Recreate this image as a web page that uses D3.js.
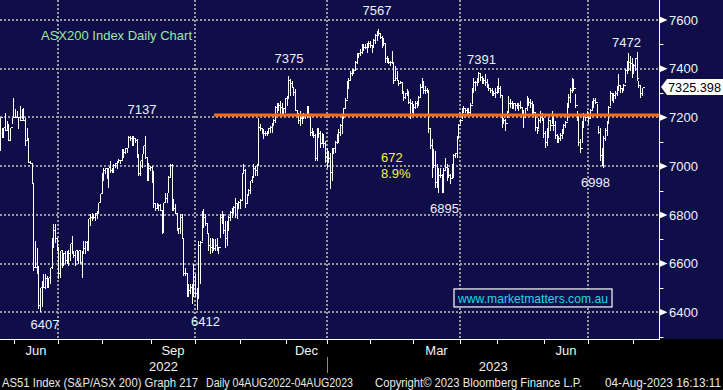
<!DOCTYPE html>
<html><head><meta charset="utf-8">
<script src="https://cdn.jsdelivr.net/npm/d3@7"></script>
<style>
html,body{margin:0;padding:0;background:#000;}
svg{display:block;font-family:"Liberation Sans",Arial,sans-serif;}
</style></head><body>
<svg id="c" width="723" height="390"></svg>
<script>
// ASX200 daily bars (trading-day index)
const lows = [
7066,7121,7121,7149,7149,7108,7108,7176,7203,7203,
7203,7155,7190,7196,7190,7087,7108,7019,7012,6930,
6574,6588,6560,6417,6407,6424,6506,6499,6506,6506,
6519,6581,6670,6690,6656,6540,6547,6588,6595,6601,
6601,6595,6615,6642,6629,6595,6615,6601,6601,6547,
6642,6642,6656,6656,6759,6779,6786,6779,6786,6807,
6854,6889,6943,6971,6950,6916,6978,6978,6978,6998,
6991,7019,7012,7025,7039,7053,7060,7080,7108,7087,
7087,7101,7039,6964,6964,6998,7053,7032,6943,6943,
6984,6937,6834,6820,6827,6820,6820,6724,6731,6854,
6854,6895,6957,6820,6820,6807,6738,6724,6724,6704,
6553,6553,6465,6465,6478,6437,6465,6465,6412,6458,
6519,6697,6752,6759,6724,6656,6642,6649,6656,6656,
6656,6642,6711,6766,6724,6670,6677,6738,6779,6793,
6807,6793,6786,6827,6827,6861,6971,6834,6854,6882,
6889,6937,6957,6964,6964,7005,7149,7135,7114,7128,
7128,7135,7142,7142,7169,7183,7224,7231,7217,7217,
7217,7224,7251,7279,7292,7326,7292,7231,7217,7176,
7169,7176,7196,7196,7203,7210,7128,7128,7121,7025,
7025,7121,7080,7101,7080,7019,6998,7019,6909,6943,
7053,7060,7094,7101,7128,7135,7203,7237,7279,7320,
7354,7374,7381,7395,7422,7450,7456,7463,7477,7484,
7470,7491,7491,7470,7491,7504,7518,7538,7525,7491,
7497,7429,7429,7422,7415,7422,7340,7354,7354,7333,
7340,7299,7272,7279,7292,7258,7196,7224,7217,7237,
7244,7251,7285,7326,7299,7299,7306,7142,7073,6957,
6998,6916,6916,6895,6957,6895,6895,6984,6943,6957,
6930,6957,6957,7039,7039,7121,7176,7196,7224,7224,
7217,7217,7210,7258,7306,7313,7333,7347,7354,7340,
7340,7333,7326,7313,7306,7292,7292,7285,7299,7306,
7285,7162,7176,7149,7203,7224,7244,7237,7237,7231,
7237,7231,7237,7217,7162,7203,7231,7251,7244,7217,
7217,7149,7135,7155,7183,7190,7121,7080,7087,7121,
7149,7176,7149,7114,7101,7101,7108,7114,7135,7162,
7190,7244,7265,7306,7313,7244,7190,7087,7060,7101,
7162,7190,7203,7176,7203,7231,7244,7258,7203,7135,
7025,7005,6998,7108,7128,7176,7251,7272,7265,7279,
7292,7313,7306,7306,7313,7347,7381,7395,7395,7367,
7381,7395,7354,7326,7285,7292];
const highs = [
7203,7162,7162,7224,7190,7176,7162,7203,7285,7237,
7231,7203,7251,7237,7244,7203,7162,7121,7025,7019,
6930,6697,6670,6595,6506,6533,6560,6560,6553,6547,
6588,6711,6766,6766,6704,6670,6656,6656,6649,6656,
6656,6656,6683,6718,6656,6656,6656,6656,6656,6656,
6697,6697,6697,6786,6807,6813,6807,6813,6820,6854,
6889,6978,6998,6998,6998,6998,7025,6998,7012,7019,
7025,7032,7025,7073,7073,7080,7080,7128,7128,7128,
7128,7121,7114,7053,7025,7053,7087,7128,7039,7019,
7005,7005,6984,6854,6854,6848,6848,6820,6854,6895,
6895,6964,7012,7012,6868,6848,6807,6752,6807,6807,
6704,6588,6560,6519,6519,6519,6601,6560,6506,6697,
6697,6820,6827,6807,6766,6724,6711,6711,6704,6704,
6711,6670,6807,6820,6807,6779,6779,6800,6820,6834,
6841,6875,6854,6861,6868,6978,7012,6991,6889,6909,
6943,6964,7012,7005,7012,7203,7176,7162,7155,7149,
7149,7162,7169,7183,7196,7251,7265,7265,7272,7265,
7244,7285,7292,7374,7361,7354,7326,7320,7231,7217,
7231,7210,7224,7217,7251,7251,7210,7162,7149,7135,
7162,7162,7149,7142,7135,7108,7080,7066,7060,7080,
7080,7108,7135,7155,7176,7210,7244,7285,7354,7367,
7395,7402,7402,7436,7470,7470,7484,7504,7504,7504,
7511,7518,7518,7497,7525,7545,7559,7567,7552,7538,
7532,7504,7456,7450,7436,7477,7429,7415,7395,7354,
7354,7347,7313,7306,7320,7313,7279,7272,7258,7272,
7272,7292,7340,7367,7354,7333,7326,7313,7155,7114,
7073,7066,7012,6998,6998,6971,6998,7039,7012,6998,
6971,7012,7053,7060,7128,7176,7196,7244,7251,7244,
7244,7244,7265,7326,7367,7354,7367,7391,7381,7374,
7367,7381,7361,7340,7326,7326,7313,7326,7333,7367,
7333,7292,7203,7196,7231,7292,7279,7272,7265,7265,
7265,7265,7272,7244,7231,7244,7292,7285,7279,7272,
7258,7224,7162,7203,7231,7224,7203,7149,7162,7203,
7190,7231,7217,7190,7135,7128,7142,7155,7176,7190,
7265,7299,7326,7367,7361,7299,7231,7217,7114,7190,
7224,7217,7231,7210,7237,7272,7285,7285,7258,7169,
7162,7080,7128,7162,7190,7251,7313,7306,7306,7313,
7333,7381,7333,7326,7340,7402,7436,7470,7456,7450,
7422,7450,7472,7354,7333,7325.398];
const closes = [
7203,7121,7162,7149,7149,7108,7162,7203,7203,7203,
7203,7203,7190,7196,7190,7108,7108,7019,7012,6930,
6588,6588,6560,6430,6506,6533,6506,6540,6519,6547,
6588,6711,6738,6704,6670,6560,6656,6622,6642,6615,
6656,6642,6683,6649,6636,6656,6622,6656,6608,6656,
6663,6690,6697,6786,6793,6800,6793,6807,6820,6854,
6889,6964,6984,6991,6957,6998,6984,6991,7005,7012,
7019,7025,7025,7066,7060,7073,7080,7121,7114,7121,
7114,7108,7046,6971,7025,7053,7087,7039,6950,6991,
6998,6957,6848,6827,6834,6841,6820,6738,6854,6868,
6895,6957,7005,6841,6827,6807,6745,6745,6793,6704,
6560,6560,6478,6492,6506,6512,6547,6478,6499,6677,
6690,6813,6793,6766,6724,6677,6670,6683,6663,6677,
6670,6670,6793,6786,6738,6704,6772,6793,6813,6820,
6834,6848,6848,6854,6861,6971,6984,6848,6882,6902,
6943,6957,6991,6984,7005,7162,7155,7142,7135,7135,
7142,7155,7162,7176,7190,7244,7244,7251,7244,7224,
7237,7279,7285,7354,7340,7326,7306,7231,7217,7190,
7196,7203,7210,7210,7244,7210,7142,7142,7128,7032,
7155,7135,7094,7121,7094,7039,7025,7032,6978,7073,
7073,7101,7128,7142,7169,7196,7237,7272,7340,7354,
7381,7388,7395,7429,7456,7463,7470,7491,7491,7491,
7497,7504,7497,7491,7518,7538,7552,7545,7532,7511,
7504,7443,7436,7429,7429,7429,7354,7361,7354,7340,
7347,7306,7285,7299,7299,7265,7258,7244,7244,7258,
7265,7285,7326,7340,7313,7313,7313,7155,7087,7060,
7005,6937,6957,6964,6964,6909,6984,6998,6957,6964,
6950,6991,7046,7053,7114,7169,7190,7237,7237,7231,
7231,7224,7251,7320,7347,7347,7361,7381,7367,7354,
7354,7347,7333,7320,7313,7306,7299,7306,7326,7320,
7292,7190,7190,7176,7224,7258,7258,7251,7258,7251,
7244,7251,7244,7231,7210,7237,7265,7265,7258,7244,
7224,7162,7149,7190,7210,7196,7135,7101,7142,7190,
7169,7203,7169,7128,7114,7114,7128,7142,7169,7183,
7251,7285,7313,7354,7320,7251,7203,7101,7073,7176,
7210,7203,7217,7196,7231,7258,7272,7265,7210,7142,
7046,7019,7114,7149,7183,7244,7299,7285,7292,7299,
7320,7333,7320,7313,7333,7395,7402,7429,7422,7408,
7415,7443,7361,7333,7299,7325.398];

// month starts, in trading-day index units
const monthNames = ["Jun","Jul","Aug","Sep","Oct","Nov","Dec","Jan","Feb","Mar","Apr","May","Jun","Jul","Aug"];
const monthStarts = [8.4,34.8,61.2,90.6,117,144,171.6,196.2,222,247.8,276,298.2,326.4,352.8,379.8];
const labelledMonths = [0,3,6,9,12];     // Jun, Sep, Dec, Mar, Jun
const gridMonths = [1,4,7,10,13];        // Jul, Oct, Jan, Apr, Jul
const years = ["2022","2023"];
const yMajor = [6400,6600,6800,7000,7200,7400,7600];
const yMinor = [6300,6500,6700,6900,7100,7300,7500];
const levelValue = 7210, levelStart = 128.4;

const annoText = ["7137","7567","7375","7391","7472","6895","6998","6407","6412"];
const annoIdx  = [85.2,226.2,173.4,288.9,375.9,266.7,357.3,27,123.3];
const annoVal  = [7214,7620,7423,7419,7489,6808,6914,6332,6344];
const moveText = ["672","8.9%"];
const moveIdx = 228.6, moveVal = [7017,6951];
const title = "ASX200 Index Daily Chart", titleIdx = 24.6, titleVal = 7518;
const site = "www.marketmatters.com.au", siteIdx = 319.8, siteVal = 6459;

const NAVY = "#0f0e48";
const W = 723, H = 390, plotB = 339, axisX = 659.5;
const svg = d3.select("#c");
svg.append("rect").attr("width",W).attr("height",H).attr("fill","#000");
svg.append("rect").attr("width",W).attr("height",plotB).attr("fill",NAVY);

const x = d3.scaleLinear().domain([0,395.7]).range([0,axisX]);
const y = d3.scaleLinear().domain([6290.5,7682.1]).range([plotB,0]);

// grid
const grid = svg.append("g").attr("stroke","#9a9aa6").attr("stroke-width",2).attr("stroke-dasharray","2,2");
yMajor.forEach(v=>{ grid.append("line").attr("x1",0).attr("x2",axisX).attr("y1",Math.round(y(v))).attr("y2",Math.round(y(v))); });
gridMonths.forEach(k=>{ const gx=Math.round(x(monthStarts[k])); grid.append("line").attr("x1",gx).attr("x2",gx).attr("y1",0).attr("y2",plotB); });

// bars
const bx = i => Math.round(x(i)) + 0.5;
let d = "";
for (let i=0;i<lows.length;i++){
  const xi = bx(i);
  d += `M${xi},${Math.round(y(lows[i]))+0.5}V${Math.round(y(highs[i]))+0.5}`;
  const xn = i < lows.length-1 ? bx(i+1) : xi+2;
  d += `M${xi},${Math.round(y(closes[i]))+0.5}H${xn}`;
}
svg.append("path").attr("d",d).attr("fill","none").attr("stroke","#fff").attr("stroke-width",1).attr("shape-rendering","crispEdges");

// orange level
svg.append("line").attr("x1",x(levelStart)).attr("x2",axisX).attr("y1",y(levelValue)).attr("y2",y(levelValue))
  .attr("stroke","#ff6a10").attr("stroke-width",3);

// axes
svg.append("line").attr("x1",axisX).attr("x2",axisX).attr("y1",0).attr("y2",plotB).attr("stroke","#fff").attr("stroke-width",1);
svg.append("line").attr("x1",0).attr("x2",axisX+0.5).attr("y1",plotB+0.5).attr("y2",plotB+0.5).attr("stroke","#fff").attr("stroke-width",1);
yMajor.forEach(v=>{
  const yy = y(v);
  svg.append("path").attr("d",`M${axisX},${yy-3.5}L${axisX+8},${yy}L${axisX},${yy+3.5}Z`).attr("fill","#fff");
  svg.append("text").attr("x",669).attr("y",yy).attr("dy","0.36em").attr("fill","#eef2ff").attr("font-size",13).text(v);
});
yMinor.forEach(v=>{
  svg.append("line").attr("x1",axisX).attr("x2",axisX+4).attr("y1",Math.round(y(v))+0.5).attr("y2",Math.round(y(v))+0.5).attr("stroke","#fff");
});
monthStarts.forEach(m=>{
  const tx = Math.round(x(m))+0.5;
  svg.append("line").attr("x1",tx).attr("x2",tx).attr("y1",plotB).attr("y2",plotB+5).attr("stroke","#fff");
});
labelledMonths.forEach(k=>{
  const cx = (x(monthStarts[k]) + x(monthStarts[k+1]))/2;
  svg.append("text").attr("x",cx).attr("y",355).attr("text-anchor","middle").attr("fill","#f2f2f2").attr("font-size",13).text(monthNames[k]);
});
const janIdx = monthStarts[7];
const yearCenters = [(x(0)+x(janIdx))/2, (x(janIdx)+axisX)/2];
years.forEach((t,k)=>{
  svg.append("text").attr("x",yearCenters[k]).attr("y",371).attr("text-anchor","middle").attr("fill","#f2f2f2").attr("font-size",13).text(t);
});
svg.append("line").attr("x1",Math.round(x(janIdx))+0.5).attr("x2",Math.round(x(janIdx))+0.5).attr("y1",357).attr("y2",373).attr("stroke","#8a8a8a");

// last price tag
const lastV = closes[closes.length-1], ly = y(lastV);
svg.append("path").attr("d",`M${axisX+1.5},${ly}L${axisX+7.5},${ly-8}H${W}V${ly+8}H${axisX+7.5}Z`).attr("fill","#fff");
svg.append("text").attr("x",668).attr("y",ly).attr("dy","0.36em").attr("fill","#000").attr("font-size",13)
  .attr("textLength",53).attr("lengthAdjust","spacingAndGlyphs").text(d3.format(".3f")(lastV));

// annotations
annoText.forEach((t,k)=>{
  svg.append("text").attr("x",x(annoIdx[k])).attr("y",y(annoVal[k])).attr("text-anchor","middle").attr("fill","#eaf0ff").attr("font-size",13).text(t);
});
moveText.forEach((t,k)=>{
  svg.append("text").attr("x",x(moveIdx)).attr("y",y(moveVal[k])).attr("fill","#f4f53a").attr("font-size",13).text(t);
});
svg.append("text").attr("x",x(titleIdx)).attr("y",y(titleVal)).attr("fill","#9ee89e").attr("font-size",13).text(title);
const sx = x(siteIdx), sy = y(siteVal);
svg.append("rect").attr("x",sx-79).attr("y",sy-9).attr("width",158).attr("height",18).attr("fill",NAVY).attr("stroke","#fff").attr("stroke-width",1.2);
svg.append("text").attr("x",sx).attr("y",sy).attr("dy","0.36em").attr("text-anchor","middle").attr("fill","#22d6e2").attr("font-size",13.5)
  .attr("textLength",150).attr("lengthAdjust","spacingAndGlyphs").text(site);

// footer
const foot = [["AS51 Index (S&P/ASX 200) Graph 217",2,196],["Daily 04AUG2022-04AUG2023",206,147],["Copyright\u00A9 2023 Bloomberg Finance L.P.",375,207],["04-Aug-2023 16:13:11",605,116]];
foot.forEach(f=>{
  svg.append("text").attr("x",f[1]).attr("y",387).attr("fill","#e8e8e8").attr("font-size",12)
    .attr("textLength",f[2]).attr("lengthAdjust","spacingAndGlyphs").text(f[0]);
});
</script>
</body></html>
